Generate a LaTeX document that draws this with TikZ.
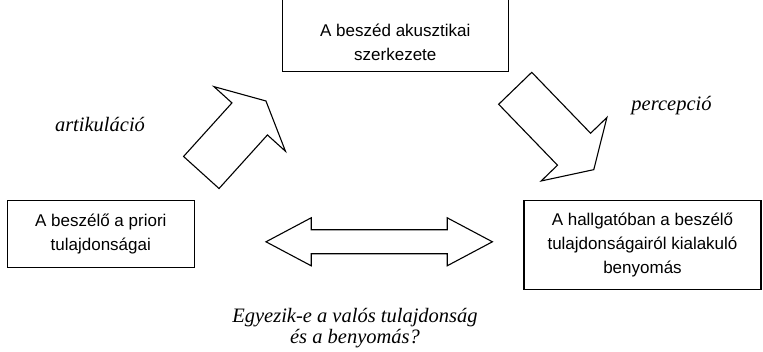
\documentclass[tikz,border=0pt]{standalone}
\usepackage{fontspec}
\setmainfont{Liberation Serif}
\setsansfont{Liberation Sans}
\usetikzlibrary{positioning}

\tikzset{
  box/.style={draw, line width=1.1pt, align=center, inner sep=0pt,
    font=\sffamily\fontsize{17}{24}\selectfont},
  lbl/.style={align=center, font=\itshape\fontsize{20.5}{21}\selectfont},
  arrowline/.style={draw, line width=1.1pt, line join=miter},
  % shaft length / shaft half width / head half width / head length
  pics/blockarrow/.style n args={4}{code={
    \draw[arrowline] (0,-#2) -- (#1,-#2) -- (#1,-#3) -- ({#1+#4},0)
      -- (#1,#3) -- (#1,#2) -- (0,#2) -- cycle;}},
  % half shaft length / shaft half width / head half width / head length
  pics/twinarrow/.style n args={4}{code={
    \draw[arrowline] (-#1,-#2) -- (#1,-#2) -- (#1,-#3) -- ({#1+#4},0)
      -- (#1,#3) -- (#1,#2) -- (-#1,#2) -- (-#1,#3) -- ({-#1-#4},0)
      -- (-#1,-#3) -- cycle;}},
}

\begin{document}
\begin{tikzpicture}[x=1pt, y=-1pt]
% speaker -> acoustics -> listener
\useasboundingbox (0,0) rectangle (763,352);

% Boxes
\node[box, minimum width=226pt, anchor=south, inner ysep=11pt] (akusztika) at (395.3,72)
  {\rule{0pt}{40pt}A beszéd akusztikai\\szerkezete};
\node[box, minimum width=187pt, minimum height=66.7pt] (beszelo) at (100.8,234.3)
  {A beszélő a priori\\tulajdonságai};
\node[box, minimum width=237pt, minimum height=88.6pt] (benyomas) at (642.5,245)
  {A hallgatóban a beszélő\\tulajdonságairól kialakuló\\benyomás};

% Block arrows
\pic[rotate=47.9] at (201.3,172.5) {blockarrow={72.2}{23.9}{48.2}{24.2}};
\pic[rotate=-46] at (515.2,88.3) {blockarrow={84.7}{23}{45.7}{28.4}};
\pic at (379.2,241.8) {twinarrow={68}{12}{24}{45.2}};

% Labels
\node[lbl] (artik) at (100,125) {artikuláció};
\node[lbl] (percep) at (671.5,106) {percepció};
\node[lbl] (kerdes) at (355,328.4) {Egyezik-e a valós tulajdonság\\és a benyomás?};
\end{tikzpicture}
\end{document}
